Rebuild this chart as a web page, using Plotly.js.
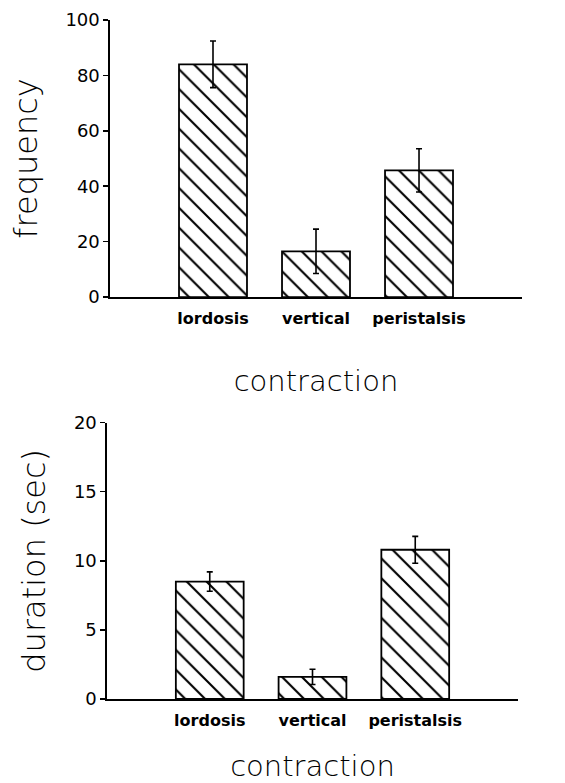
<!DOCTYPE html>
<html>
<head>
<meta charset="utf-8">
<script src="https://cdn.plot.ly/plotly-3.0.1.min.js"></script>
<style>html,body{margin:0;padding:0;background:#fff;}#chart{width:565px;height:783px;}</style>
</head>
<body>
<div id="chart"></div>
<script>
const categories = ["lordosis", "vertical", "peristalsis"];
const frequencyValues = [84, 16.5, 45.7];
const frequencyErrors = [8.4, 8.0, 7.8];
const durationValues = [8.5, 1.6, 10.8];
const durationErrors = [0.7, 0.55, 0.97];
const freqTicks = [0, 20, 40, 60, 80, 100];
const durTicks = [0, 5, 10, 15, 20];

const FONT = "DejaVu Sans, Liberation Sans, sans-serif";

function barTrace(values, errors, xa, ya) {
  return {
    type: "bar",
    x: categories,
    y: values,
    xaxis: xa,
    yaxis: ya,
    width: 0.66,
    marker: {
      color: "#ffffff",
      line: {color: "#000000", width: 1.8},
      pattern: {shape: "\\", fgcolor: "#000000", bgcolor: "#ffffff", size: 14, solidity: 0.15}
    },
    error_y: {type: "data", array: errors, visible: true, color: "#000000", thickness: 1.6, width: 3},
    showlegend: false,
    hoverinfo: "skip"
  };
}

const data = [
  barTrace(frequencyValues, frequencyErrors, "x", "y"),
  barTrace(durationValues, durationErrors, "x2", "y2")
];

const axisFont = {family: FONT, size: 18, color: "#000", weight: 400};
const xTitleFont = {family: FONT, size: 29, color: "#000", weight: 200};
const yTitleFont = {family: FONT, size: 32, color: "#000", weight: 200};

function xAxis(domain, anchor, standoff) {
  return {
    domain: domain, anchor: anchor,
    type: "category", range: [-1, 3],
    showline: true, linecolor: "#000", linewidth: 1.6,
    ticks: "", showgrid: false, zeroline: false,
    ticklabelstandoff: 6,
    tickfont: {family: FONT, size: 16, color: "#000", weight: "bold"},
    title: {text: "contraction", font: xTitleFont, standoff: standoff},
    fixedrange: true
  };
}
function yAxis(domain, anchor, range, ticks, title) {
  return {
    domain: domain, anchor: anchor,
    range: range, tickvals: ticks, ticktext: ticks.map(String),
    showline: true, linecolor: "#000", linewidth: 1.6,
    ticks: "outside", ticklen: 5, tickwidth: 1.5, tickcolor: "#000",
    showgrid: false, zeroline: false,
    tickfont: axisFont,
    title: {text: title, font: yTitleFont, standoff: 18},
    fixedrange: true
  };
}

const layout = {
  width: 565, height: 783,
  margin: {l: 100, r: 40, t: 20, b: 84},
  paper_bgcolor: "#fff", plot_bgcolor: "#fff",
  xaxis: xAxis([0.0235, 0.993], "y", 44),
  yaxis: yAxis([0.592, 1], "x", [0, 100], freqTicks, "frequency"),
  xaxis2: xAxis([0.0165, 0.9835], "y2", 38),
  yaxis2: yAxis([0, 0.407], "x2", [0, 20], durTicks, "duration (sec)"),
  font: {family: FONT, color: "#000"}
};

Plotly.newPlot("chart", data, layout, {displayModeBar: false, staticPlot: true});
</script>
</body>
</html>
